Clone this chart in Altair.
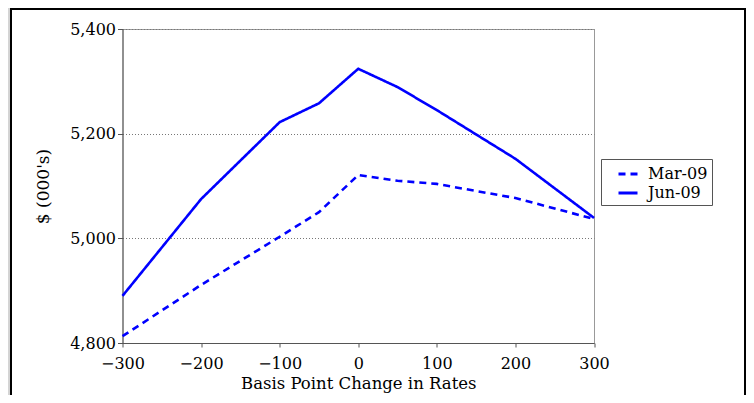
import altair as alt
import pandas as pd

x_vals = [-300, -200, -100, -50, 0, 50, 100, 200, 300]
mar_09 = [4813, 4911, 5003, 5050, 5121, 5110, 5104, 5077, 5037]
jun_09 = [4890, 5075, 5222, 5258, 5324, 5289, 5245, 5152, 5039]
series_names = ["Mar-09", "Jun-09"]
x_ticks = [-300, -200, -100, 0, 100, 200, 300]
y_ticks = [4800, 5000, 5200, 5400]

rows = []
for name, vals in zip(series_names, [mar_09, jun_09]):
    for xv, yv in zip(x_vals, vals):
        rows.append({"bp": xv, "value": yv, "series": name})
df = pd.DataFrame(rows)

FONT = "DejaVu Serif"
one = pd.DataFrame({"a": [0]})

gray_edge = alt.Chart(one).mark_rect(
    fill=None, stroke="#d4d4d4", strokeWidth=4
).encode(
    x=alt.value(-114.5), x2=alt.value(640), y=alt.value(-40), y2=alt.value(420)
)
frame = alt.Chart(one).mark_rect(
    fill=None, stroke="black", strokeWidth=2
).encode(
    x=alt.value(-111.5), x2=alt.value(622.5), y=alt.value(-20), y2=alt.value(420)
)

legend_kw = dict(title="\u2003\u2003", titleOrient="right", titlePadding=0,
                 titleFontSize=16, titleFont=FONT,
                 orient="none", legendX=478.5, legendY=130,
                 strokeColor="#555", padding=4, symbolType="stroke",
                 symbolSize=361, symbolStrokeWidth=3, labelFontSize=16,
                 labelFont=FONT, labelColor="black", rowPadding=0,
                 symbolOffset=12, labelOffset=9, fillColor="white")

lines = alt.Chart(df).mark_line(strokeWidth=2.6).encode(
    x=alt.X("bp:Q", scale=alt.Scale(domain=[-300, 300], nice=False),
            axis=alt.Axis(title="Basis Point Change in Rates", values=x_ticks, format="d",
                          grid=False, tickSize=4, labelPadding=8, titlePadding=4,
                          labelFlush=False, titleFontSize=16.5)),
    y=alt.Y("value:Q", scale=alt.Scale(domain=[4800, 5400], nice=False, zero=False),
            axis=alt.Axis(title="$ (000's)", values=y_ticks, format=",d",
                          grid=True, gridDash=[1, 2], gridColor="#777", gridWidth=1,
                          tickSize=5, labelPadding=2, titlePadding=17, labelFlush=False)),
    color=alt.Color("series:N", scale=alt.Scale(domain=series_names, range=["#0000ff", "#0000ff"]),
                    legend=alt.Legend(**legend_kw)),
    strokeDash=alt.StrokeDash("series:N", scale=alt.Scale(domain=series_names, range=[[7, 5], [1, 0]]),
                              legend=alt.Legend(**legend_kw)),
)

chart = alt.layer(lines, gray_edge, frame).properties(
    width=471.5, height=314,
    autosize="none",
    padding={"left": 114.5, "top": 21, "right": 152, "bottom": 52},
    background="white",
).configure_view(
    stroke="#999", strokeWidth=1
).configure_axis(
    labelFont=FONT, titleFont=FONT, labelFontSize=16, titleFontSize=17,
    labelColor="black", titleColor="black", titleFontWeight="normal",
    domainColor="#555", tickColor="#555", domainWidth=1
)

chart.save("out.html", embed_options={"renderer": "svg", "actions": False})
